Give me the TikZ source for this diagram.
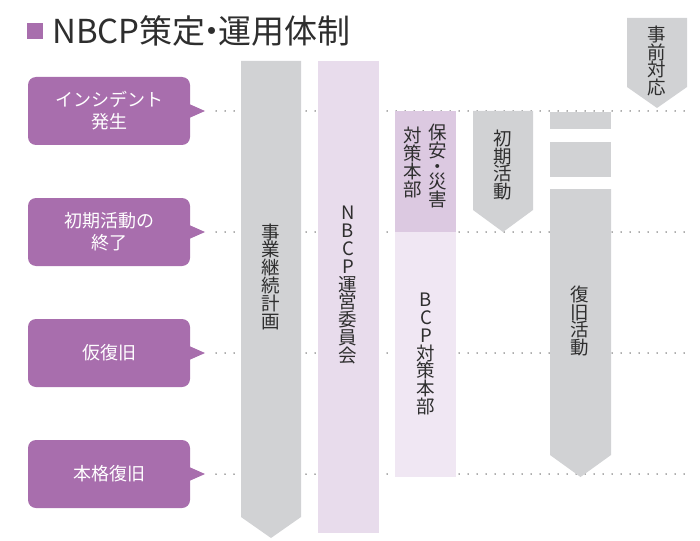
\documentclass[tikz,border=0pt]{standalone}
\usepackage{fontspec}
\setmainfont{Noto Sans CJK JP}
\definecolor{cpurple}{HTML}{A86EAD}
\definecolor{cgray}{HTML}{D1D2D4}
\definecolor{clpurple}{HTML}{E8DCEC}
\definecolor{cmpurple}{HTML}{DCC9E1}
\definecolor{cvlpurple}{HTML}{F0E7F3}
\definecolor{tgray}{HTML}{2E2E2E}
\definecolor{dotgray}{HTML}{555555}
\begin{document}
\begin{tikzpicture}[x=1pt,y=-1pt,
  callout/.style={fill=cpurple, rounded corners=8pt, minimum width=162pt, minimum height=68pt, text=white, font=\fontsize{18}{22}\selectfont, align=center, inner sep=0pt},
  vtext/.style={text=tgray, font=\fontsize{18.5}{17.8}\selectfont, align=center, inner sep=0pt},
  dots/.style={draw=dotgray, line width=1.5pt, dash pattern=on 0pt off 9pt, line cap=round},
  colgray/.style={fill=cgray},
]
\useasboundingbox (0,0) rectangle (700,540);

% title
\fill[cpurple] (27,23) rectangle (43,39);
\node[anchor=base west, font=\fontsize{33}{33}\selectfont, text=tgray, inner sep=0pt] (title) at (52,44) {NBCP策定\kern-10pt・\kern-10pt運用体制};

% callouts
\foreach \i/\y/\t in {1/111/{インシデント\\発生}, 2/232/{初期活動の\\終了}, 3/353/{仮復旧}, 4/474/{本格復旧}}{
  \node[callout] (c\i) at (109,\y) {\t};
  \coordinate (t\i) at (205,\y);
  \coordinate (e\i) at (690,\y);
  \fill[cpurple] ([xshift=-1pt,yshift=7pt]c\i.east) -- (t\i) -- ([xshift=-1pt,yshift=-7pt]c\i.east) -- cycle;
  \draw[dots] ([xshift=11pt]t\i) -- (e\i);
}

% columns
\fill[colgray] (241,61) -- (301,61) -- (301,517) -- (271,538) -- (241,517) -- cycle;
\fill[clpurple] (318,61) rectangle (379,533);
\fill[cmpurple] (395,111) rectangle (456,232);
\fill[cvlpurple] (395,232) rectangle (456,477);
\fill[colgray] (473,111) -- (533,111) -- (533,210) -- (503,232) -- (473,210) -- cycle;
\fill[colgray] (550,112) rectangle (611,129);
\fill[colgray] (550,142) rectangle (611,177);
\fill[colgray] (550,189) -- (611,189) -- (611,455) -- (580.5,477) -- (550,455) -- cycle;
\fill[colgray] (627,18) -- (687,18) -- (687,87) -- (657,108) -- (627,87) -- cycle;

% vertical labels
\node[vtext] (l1) at (271,276.5) {事\\業\\継\\続\\計\\画};
\node[vtext] (l2) at (348,285) {N\\B\\C\\P\\運\\営\\委\\員\\会};
\node[vtext] (l3a) at (438,166) {保\\安\\[-2pt]・\\[-2pt]災\\害};
\node[vtext] (l3b) at (413,162.5) {対\\策\\本\\部};
\node[vtext] (l3c) at (426,354) {B\\C\\P\\対\\策\\本\\部};
\node[vtext] (l4) at (503,165) {初\\期\\活\\動};
\node[vtext] (l5) at (580,321) {復\\旧\\活\\動};
\node[vtext] (l6) at (657,61) {事\\前\\対\\応};
\end{tikzpicture}
\end{document}
